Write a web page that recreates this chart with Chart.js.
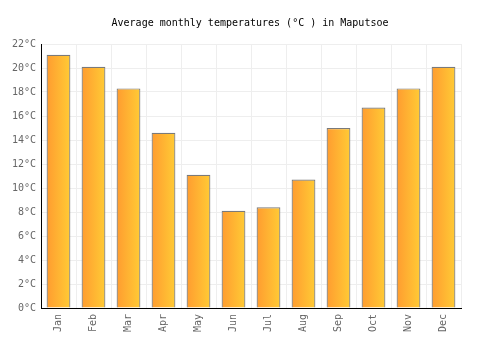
<!DOCTYPE html>
<html><head><meta charset="utf-8">
<script src="https://cdn.jsdelivr.net/npm/chart.js@4/dist/chart.umd.min.js"></script>
<style>html,body{margin:0;padding:0;background:#fff;}canvas{display:block;}</style>
</head><body>
<canvas id="c" width="500" height="350"></canvas>
<script>
const months = ["Jan","Feb","Mar","Apr","May","Jun","Jul","Aug","Sep","Oct","Nov","Dec"];
const temps = [21.1, 20.1, 18.3, 14.6, 11.1, 8.1, 8.4, 10.7, 15.0, 16.7, 18.3, 20.1];
const yTicks = [0,2,4,6,8,10,12,14,16,18,20,22];
const titleText = "Average monthly temperatures (°C ) in Maputsoe";
const FONT = "'DejaVu Sans Mono', 'Liberation Mono', monospace";

function barGradient(ctx) {
  const chart = ctx.chart;
  const area = chart.chartArea;
  if (!area || ctx.dataIndex === undefined) return '#ffb030';
  const xs = chart.scales.x;
  const cx = xs.getPixelForValue(ctx.dataIndex);
  const w = xs.width / months.length * 0.68;
  const g = chart.ctx.createLinearGradient(cx - w/2, 0, cx + w/2, 0);
  g.addColorStop(0, '#FF9C30');
  g.addColorStop(1, '#FFCB35');
  return g;
}

new Chart(document.getElementById('c'), {
  type: 'bar',
  data: {
    labels: months,
    datasets: [{
      data: temps,
      backgroundColor: barGradient,
      borderColor: '#7a7a7a',
      borderWidth: 1.2,
      barPercentage: 0.68,
      categoryPercentage: 1.0
    }]
  },
  options: {
    responsive: false,
    animation: false,
    devicePixelRatio: 1,
    layout: { padding: 0 },
    plugins: {
      legend: { display: false },
      tooltip: { enabled: false },
      title: {
        display: true,
        text: titleText,
        color: '#000',
        font: { family: FONT, size: 10, weight: 'normal' },
        padding: { top: 17, bottom: 15 }
      }
    },
    scales: {
      x: {
        grid: { display: true, color: '#eeeeee', offset: true, drawTicks: false },
        border: { display: true, color: '#000', width: 1 },
        ticks: {
          color: '#666', font: { family: FONT, size: 10 },
          maxRotation: 90, minRotation: 90, padding: 6
        },
        afterFit: s => { s.height = 42; }
      },
      y: {
        min: 0, max: 22,
        grid: { color: '#eeeeee', drawTicks: false },
        border: { display: true, color: '#000', width: 1 },
        afterBuildTicks: s => { s.ticks = yTicks.map(v => ({ value: v })); },
        ticks: {
          color: '#666', font: { family: FONT, size: 10 }, padding: 5,
          callback: v => v + '°C'
        },
        afterFit: s => { s.width = 41; }
      },
      yRight: {
        position: 'right',
        display: true,
        min: 0, max: 22,
        grid: { display: false },
        border: { display: false },
        ticks: { display: false },
        afterFit: s => { s.width = 39; }
      }
    }
  }
});
</script>
</body></html>
